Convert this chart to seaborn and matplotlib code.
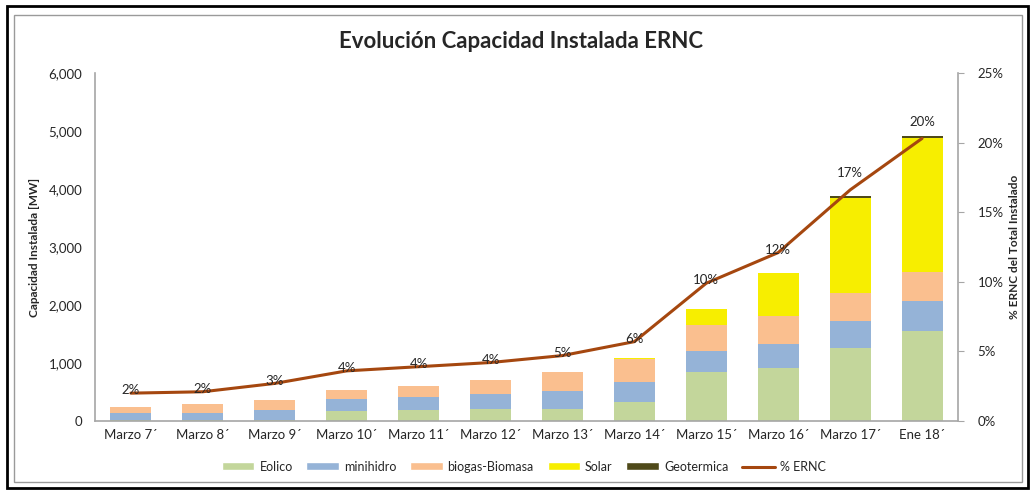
import numpy as np
import pandas as pd
import matplotlib
matplotlib.use("Agg")
import matplotlib.pyplot as plt
import seaborn as sns
from matplotlib.patches import Rectangle, Patch
from matplotlib.lines import Line2D
from matplotlib.ticker import FuncFormatter

# data
categories = ["Marzo 7´", "Marzo 8´", "Marzo 9´", "Marzo 10´", "Marzo 11´", "Marzo 12´",
              "Marzo 13´", "Marzo 14´", "Marzo 15´", "Marzo 16´", "Marzo 17´", "Ene 18´"]
eolico = [20, 20, 20, 180, 185, 200, 205, 335, 845, 915, 1260, 1550]
minihidro = [110, 125, 165, 200, 230, 270, 305, 340, 355, 410, 460, 520]
biogas = [110, 140, 185, 160, 190, 245, 330, 400, 460, 480, 490, 495]
solar = [0, 0, 0, 0, 0, 0, 10, 15, 275, 755, 1630, 2310]
geotermica = [0, 0, 0, 0, 0, 0, 0, 0, 0, 0, 40, 40]
pct_ernc = [2.0, 2.1, 2.7, 3.6, 3.9, 4.2, 4.7, 5.7, 9.9, 12.1, 16.6, 20.3]

series = [("Eolico", eolico, "#c3d69b"),
          ("minihidro", minihidro, "#95b3d7"),
          ("biogas-Biomasa", biogas, "#fabf8f"),
          ("Solar", solar, "#f7ee00"),
          ("Geotermica", geotermica, "#4f4a1a")]
line_color = "#a5470f"

sns.set_style("white")
plt.rcParams["font.family"] = ["Lato", "DejaVu Sans"]

fig = plt.figure(figsize=(10.31, 4.94), dpi=100)
ax = fig.add_axes([0.0921, 0.1478, 0.8371, 0.7044])

bottom = np.zeros(len(categories))
for name, vals, col in series:
    df = pd.DataFrame({"cat": categories, "val": vals})
    sns.barplot(data=df, x="cat", y="val", color=col, bottom=bottom, width=0.57,
                saturation=1, ax=ax, linewidth=0)
    bottom = bottom + np.array(vals)

ax.set_xlim(-0.5, len(categories) - 0.5)
ax.set_ylim(0, 6000)
ax.set_yticks(range(0, 6001, 1000))
ax.yaxis.set_major_formatter(FuncFormatter(lambda v, p: f"{int(v):,}"))
ax.set_xlabel("")
ax.set_ylabel("Capacidad Instalada [MW]", fontsize=8.5, fontweight="bold", labelpad=6)
ax.tick_params(axis="both", labelsize=9.5, length=0, pad=6)
ax.tick_params(axis="y", pad=9)
for s in ["top", "right"]:
    ax.spines[s].set_visible(False)
for s in ["left", "bottom"]:
    ax.spines[s].set_color("#a6a6a6")
    ax.spines[s].set_linewidth(1.2)

ax2 = ax.twinx()
sns.lineplot(x=categories, y=pct_ernc, ax=ax2, color=line_color, linewidth=2.2, sort=False)
ax2.set_ylim(0, 25)
ax2.set_yticks(range(0, 26, 5))
ax2.yaxis.set_major_formatter(FuncFormatter(lambda v, p: f"{int(v)}%"))
ax2.tick_params(axis="y", labelsize=9.5, length=4, color="#a6a6a6", pad=10)
ax2.set_ylabel("% ERNC del Total Instalado", fontsize=8.5, fontweight="bold", labelpad=4)
for s in ["top", "left", "bottom"]:
    ax2.spines[s].set_visible(False)
ax2.spines["right"].set_color("#a6a6a6")
ax2.spines["right"].set_linewidth(1.2)

for i, (c, v) in enumerate(zip(categories, pct_ernc)):
    off = 12 if v > 15 else 2
    ax2.annotate(f"{v:.0f}%", (i, v), xytext=(0, off), textcoords="offset points",
                 ha="center", va="center", fontsize=9.5)

fig.text(0.505, 0.915, "Evolución Capacidad Instalada ERNC", ha="center", va="center",
         fontsize=16, fontweight="bold")

handles = [Patch(facecolor=col, label=name) for name, _, col in series]
handles.append(Line2D([], [], color=line_color, linewidth=2.2, label="% ERNC"))
fig.legend(handles=handles, loc="center", bbox_to_anchor=(0.508, 0.055), ncol=6,
           frameon=False, fontsize=9, handlelength=2.6, handleheight=0.6,
           columnspacing=1.1, handletextpad=0.4)

fig.patches.append(Rectangle((7 / 1031, 6 / 494), 1021 / 1031, 482 / 494,
                             transform=fig.transFigure, fill=False, edgecolor="black",
                             linewidth=2))
fig.patches.append(Rectangle((14 / 1031, 12 / 494), 1008 / 1031, 467 / 494,
                             transform=fig.transFigure, fill=False, edgecolor="#9a9a9a",
                             linewidth=1))

fig.savefig("out.png", dpi=100)
